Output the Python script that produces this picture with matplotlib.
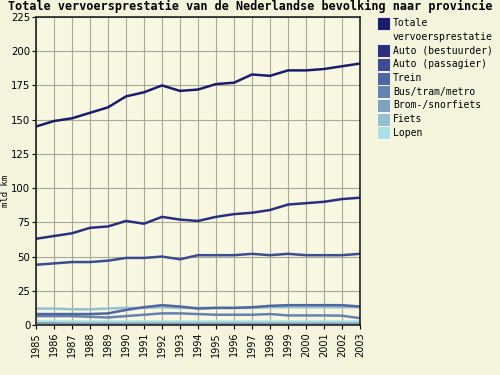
# Totale vervoersprestatie - line chart recreation

import matplotlib
matplotlib.use('Agg')
import matplotlib.pyplot as plt
from matplotlib.patches import Rectangle

# Data (mld km)
years = list(range(1985, 2004))
totaal = [145, 149, 151, 155, 159, 167, 170, 175, 171, 172, 176, 177, 183, 182, 186, 186, 187, 189, 191]
auto_bestuurder = [63, 65, 67, 71, 72, 76, 74, 79, 77, 76, 79, 81, 82, 84, 88, 89, 90, 92, 93]
auto_passagier = [44, 45, 46, 46, 47, 49, 49, 50, 48, 51, 51, 51, 52, 51, 52, 51, 51, 51, 52]
trein = [8, 8, 8, 8, 8.5, 11, 13, 14.5, 13.5, 12, 12.5, 12.5, 13, 14, 14.5, 14.5, 14.5, 14.5, 13.5]
bus_tram_metro = [6.5, 6.5, 6.5, 6, 5.5, 6.5, 7.5, 8.5, 8.5, 8, 7.5, 7.5, 7.5, 8, 7, 7, 7, 6.8, 5]
brom_snorfiets = [1.2, 1.2, 1, 1, 1, 1, 1, 1, 1, 1, 1, 1, 1, 1, 1, 1, 1, 1, 1]
fiets = [12, 12, 11.5, 11.5, 12, 12.5, 12.5, 13, 12.5, 12.5, 12.5, 12.5, 12.5, 13, 13, 13, 13, 13, 13]
lopen = [3, 3, 3, 3, 3, 3, 3, 3, 3, 3, 3, 3, 3, 3, 3, 3, 3, 3, 3]

labels = ['Totale\nvervoersprestatie', 'Auto (bestuurder)', 'Auto (passagier)', 'Trein',
          'Bus/tram/metro', 'Brom-/snorfiets', 'Fiets', 'Lopen']
series = [totaal, auto_bestuurder, auto_passagier, trein, bus_tram_metro,
          brom_snorfiets, fiets, lopen]
colors = ['#1c1c6c', '#2b307e', '#3d4c8e', '#50669e', '#6683b0',
          '#7f9fbc', '#98bfcf', '#aedfe2']

fig = plt.figure(figsize=(5, 3.75), dpi=100, facecolor='#f4f4dc')
ax = fig.add_axes([0.072, 0.1333, 0.648, 0.8214])
ax.set_facecolor('#f8f8e2')

# draw the light ones first so the dark lines stay on top
for vals, col in reversed(list(zip(series, colors))):
    ax.plot(years, vals, color=col, lw=1.8, solid_joinstyle='round')

ax.set_xlim(1985, 2003)
ax.set_ylim(0, 225)
ax.set_xticks(years)
ax.set_xticklabels([str(y) for y in years], rotation=90, fontsize=7, family='DejaVu Sans')
ax.set_yticks(range(0, 226, 25))
ax.tick_params(axis='y', labelsize=7.3, length=3, pad=1)
ax.tick_params(axis='x', length=3, pad=2)
ax.grid(True, color='#a8a896', lw=0.8)
ax.set_axisbelow(True)
for sp in ax.spines.values():
    sp.set_color('#222222')
    sp.set_linewidth(1.2)

fig.text(0.011, 0.49, 'mld km', rotation=90, family='DejaVu Sans Mono',
         fontsize=6.5, va='center', ha='center')
fig.text(0.016, 0.999, 'Totale vervoersprestatie van de Nederlandse bevolking naar provincie',
         family='DejaVu Sans Mono', fontweight='bold', fontsize=8.5, va='top', ha='left')

# legend drawn by hand, one row per series
W, H = 500.0, 375.0
row_y = [23.3, 50.7, 64.3, 78, 91.7, 105.3, 119, 132.7]
for lab, col, yc in zip(labels, colors, row_y):
    fig.patches.append(Rectangle((377 / W, 1 - (yc + 6.5) / H), 13 / W, 13 / H,
                                 transform=fig.transFigure, facecolor=col,
                                 edgecolor='#ffffff', lw=0.6))
    fig.text(393 / W, 1 - yc / H, lab.split('\n')[0], family='DejaVu Sans Mono',
             fontsize=7, va='center', ha='left')
    if '\n' in lab:
        fig.text(393 / W, 1 - (yc + 13.4) / H, lab.split('\n')[1],
                 family='DejaVu Sans Mono', fontsize=7, va='center', ha='left')

fig.savefig('out.png', dpi=100, facecolor=fig.get_facecolor())
